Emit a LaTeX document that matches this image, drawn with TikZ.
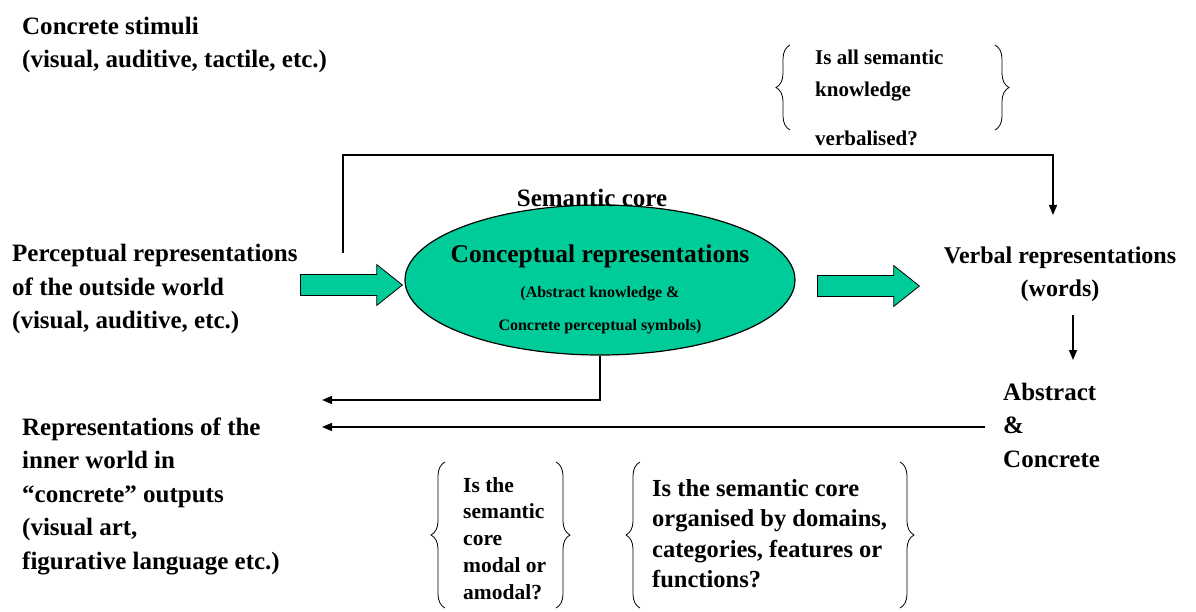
\documentclass[tikz,border=0pt]{standalone}
\usepackage{fontspec}
\setmainfont{Liberation Serif}
\usepackage{tikz}
\usetikzlibrary{shapes.geometric,shapes.arrows,arrows.meta,decorations.pathreplacing}
\definecolor{mint}{RGB}{0,204,153}

\begin{document}
\begin{tikzpicture}[
  x=1pt, y=-1pt,
  font=\bfseries,
  txt/.style={align=left, inner sep=0pt, font=\bfseries\fontsize{25}{33.5}\selectfont},
  ques/.style={align=left, inner sep=0pt, font=\bfseries\fontsize{24.5}{30.5}\selectfont},
  fat/.style={single arrow, draw=black, fill=mint, line width=0.8pt,
              inner xsep=0pt, inner ysep=10pt, single arrow head extend=10pt,
              single arrow tip angle=77, minimum height=102pt, anchor=tail},
  arr/.style={-{Triangle[length=10pt,width=8pt]}, line width=1.4pt},
  brc/.style={decorate, decoration={brace, amplitude=14pt}, line width=0.8pt},
]
\useasboundingbox (0,0) rectangle (1196,612);
% texts
\node[txt, anchor=west] (stim) at (22,45)
  {Concrete stimuli\\(visual, auditive, tactile, etc.)};
\node[txt, anchor=west] (perc) at (12,289)
  {Perceptual representations\\of the outside world\\(visual, auditive, etc.)};
\node[txt, anchor=west] (inner) at (22,496)
  {Representations of the\\inner world in\\``concrete'' outputs\\(visual art,\\figurative language etc.)};
\node[txt, align=center, font=\bfseries\fontsize{24}{33.5}\selectfont] (verbal) at (1060,274)
  {Verbal representations\\(words)};
\node[txt, anchor=west] (absc) at (1003,425) {Abstract\\\&\\Concrete};
% semantic core
\node[ellipse, draw=black, line width=1.2pt, fill=mint,
      minimum width=390pt, minimum height=150pt] (core) at (600,280) {};
\node[txt] (semcore) at (592,198) {Semantic core};
\node[align=center, inner sep=0pt, font=\bfseries\fontsize{16}{33}\selectfont] (coretxt) at (600,289)
  {{\fontsize{25.5}{30}\selectfont Conceptual representations}\\[2pt]
   (Abstract knowledge \&\\
   Concrete perceptual symbols)};
\node[fat] (arrin) at (300,285) {};
\node[fat] (arrout) at (817,286) {};
% questions
\node[ques, anchor=north west, font=\bfseries\fontsize{21}{32}\selectfont] (qverb) at (815,50)
  {Is all semantic\\knowledge\\[17pt]verbalised?};
\node[ques, anchor=north west, font=\bfseries\fontsize{21.5}{26.8}\selectfont] (qmodal) at (463,477)
  {Is the\\semantic\\core\\modal or\\amodal?};
\node[ques, anchor=north west] (qorg) at (652,479)
  {Is the semantic core\\organised by domains,\\categories, features or\\functions?};
\draw[brc] (790,130) -- (790,45);
\draw[brc] (995,45) -- (995,130);
\draw[brc] (445,608) -- (445,462);
\draw[brc] (556,462) -- (556,608);
\draw[brc] (640,608) -- (640,462);
\draw[brc] (900,462) -- (900,608);
% connectors
\coordinate (fbstart) at (343,253);
\coordinate (fbend) at (1053,215);
\coordinate (vtop) at (1073,315);
\coordinate (vbot) at (1073,360);
\coordinate (outA) at (322,400);
\coordinate (outB) at (322,427);
\draw[arr] (fbstart) |- (1053,155) -- (fbend);
\draw[arr] (vtop) -- (vbot);
\draw[arr] (core.south) |- (outA);
\draw[arr, shorten <=18pt] (absc.west |- outB) -- (outB);
\end{tikzpicture}
\end{document}
